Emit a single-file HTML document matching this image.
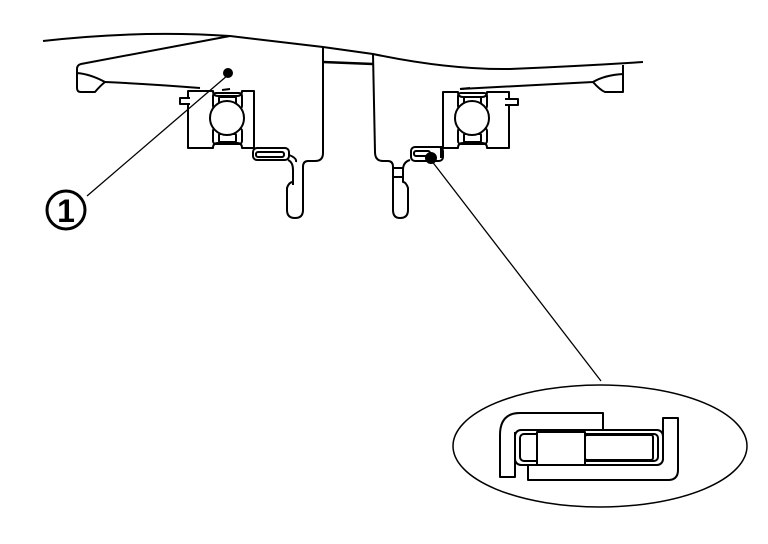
<!DOCTYPE html>
<html><head><meta charset="utf-8"><style>html,body{margin:0;padding:0;background:#fff}svg{display:block}</style></head>
<body>
<svg width="768" height="544" viewBox="0 0 768 544" xmlns="http://www.w3.org/2000/svg" fill="none" stroke="#000" stroke-width="2" stroke-linejoin="round">
<!-- top outline -->
<path d="M43,41 Q140,30 230,36 L323,47 L373,54 Q450,70 510,69 Q580,66 643,62"/>
<!-- left flange -->
<path d="M230,36 L81,64 Q77,65 77,69 L77,88 Q77,92 81,92 L95,92 Q100,86 105,82 Q90,74 77,73"/>
<path d="M105,82 Q150,84 200,88"/>
<!-- right flange -->
<path d="M460,89 L593,82 Q605,75 623,74 M593,82 Q600,90 605,92 L623,92 L623,65"/>
<!-- shaft -->
<path d="M323,47 L323,153 Q323,161 315,161 L308,161 Q303,161 303,167 L303,210 Q303,218 295,218 Q287,218 287,210 L287,188 Q289,182 293,182"/>
<path d="M293,185 L293,170 Q293,162 288,160"/>
<path d="M373,54 L375,152 Q375,161 383,161 L388,161 Q393,161 393,167 L393,210 Q393,218 400,218 Q408,218 408,210 L408,188 Q406,182 403,182 L403,170 Q403,162 410,160"/>
<path d="M393,168 L403,168 M393,177 L403,177"/>
<path d="M323,62 L373,64" stroke-width="2.5"/>
<!-- seals -->
<rect x="253" y="148" width="36" height="12" rx="4"/>
<rect x="256" y="152" width="28" height="5" rx="2"/>
<path d="M289,155 Q297,158 296,162"/>
<rect x="411" y="147" width="32" height="14" rx="4"/>
<rect x="414" y="151" width="16" height="5" rx="2"/>
<path d="M441,146 L441,158"/>
<!-- left bearing -->
<path d="M188,104 L188,148 L213,148 Q213,143 218,143 L237,143 Q242,143 242,148 L254,148 L254,91 L242,91 Q242,96 237,96 L218,96 Q213,96 213,91 L188,91 L188,98"/>
<path d="M190,98 L180,98 L180,104 L190,104"/>
<rect x="213" y="93" width="29" height="16" rx="3"/>
<rect x="219" y="97" width="17" height="8" rx="1"/>
<rect x="213" y="128" width="29" height="16" rx="3"/>
<rect x="219" y="134" width="17" height="8" rx="1"/>
<circle cx="227" cy="118" r="17" fill="#fff"/>
<path d="M222,90 L230,89"/>
<!-- right bearing -->
<path d="M443,148 L443,92 L458,92 Q458,97 463,97 L482,97 Q487,97 487,92 L509,92 L509,98 M509,104 L509,148 L487,148 Q487,143 482,143 L463,143 Q458,143 458,148 L443,148"/>
<path d="M505,99 L518,99 L518,105 L505,105"/>
<rect x="458" y="93" width="29" height="16" rx="3"/>
<rect x="464" y="97" width="17" height="8" rx="1"/>
<rect x="458" y="128" width="29" height="16" rx="3"/>
<rect x="464" y="134" width="17" height="8" rx="1"/>
<circle cx="472" cy="118" r="17" fill="#fff"/>
<path d="M460,89 L470,88"/>
<!-- leaders -->
<circle cx="228" cy="73" r="4" fill="#000"/>
<path d="M228,75 L87,196" stroke-width="1.3"/>
<circle cx="66" cy="210" r="19" stroke-width="3"/>
<text x="66" y="222" font-family="Liberation Sans, sans-serif" font-weight="bold" font-size="32" text-anchor="middle" fill="#000" stroke="none">1</text>
<circle cx="431" cy="158" r="5" fill="#000"/>
<path d="M431,160 L601,381" stroke-width="1.3"/>
<!-- detail ellipse -->
<ellipse cx="600" cy="446" rx="147" ry="61" stroke-width="1.5"/>
<path d="M603,430 L603,413 L520,413 Q500,413 500,435 L500,477 L515,477 L515,432"/>
<path d="M663,460 L663,418 L678,418 L678,470 Q678,480 668,480 L528,480 L528,465 L655,465"/>
<rect x="515" y="430" width="148" height="35" rx="6"/>
<rect x="520" y="434" width="138" height="27" rx="4"/>
<rect x="537" y="432" width="48" height="33" fill="#fff"/>
<rect x="585" y="435" width="68" height="25" rx="2"/>
</svg>
</body></html>
